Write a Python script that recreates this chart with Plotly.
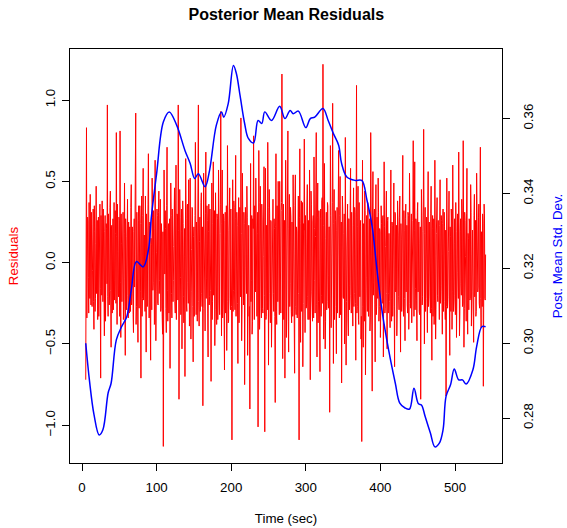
import plotly.graph_objects as go

# Residual series: whole-second samples (t = 5 .. 541 s)
res_start = 5
residuals_whole = [
    -0.72, 0.83, -0.12, 0.25, -0.31, 0.08, 0.42, -0.26, 0.15, -0.05, 0.33, -0.41, 0.19, -0.22, 0.47, 0.02, -0.35, 0.28, -0.14, 0.36,
    -0.71, 0.11, 0.38, -0.24, 0.06, -0.45, 0.29, -0.09, 0.21, 0.97, -0.33, 0.14, -0.18, 0.44, -0.52, 0.23, 0.03, -0.29, 0.37, -0.11,
    0.18, 0.80, -0.38, 0.07, -0.21, 0.26, 0.81, -0.46, 0.12, -0.04, 0.31, -0.27, 0.49, -0.57, 0.16, -0.13, 0.39, -0.34, 0.05, 0.22,
    -0.30, 0.48, -0.19, 0.09, -0.43, 0.27, 0.62, 0.92, -0.27, 0.13, -0.49, 0.35, -0.06, 0.24, -0.71, 0.41, -0.22, 0.58, -0.15, 0.03,
    0.41, -0.55, 0.17, -0.08, 0.67, -0.34, 0.25, -0.60, 0.11, 0.52, -0.17, 0.32, -0.38, 0.63, -0.48, 0.06, 0.29, -0.26, 0.44, -0.11,
    0.39, -0.28, 0.14, -0.44, -1.13, 0.57, -0.07, 0.21, -0.43, 0.71, -0.36, 0.24, 0.01, -0.65, 0.49, -0.19, 0.33, -0.24, 0.10, 0.46,
    -0.31, 0.60, -0.16, 0.28, 0.97, -0.84, 0.45, -0.09, 0.19, -0.53, 0.38, -0.21, 0.04, -0.70, 0.64, -0.26, 0.35, -0.12, 0.51, -0.39,
    0.52, -0.47, 0.08, 0.33, -0.61, 0.22, -0.14, 0.74, -0.32, 0.15, -0.05, 0.97, -0.39, 0.28, -0.18, 0.43, -0.27, -0.88, 0.55, 0.02,
    -0.42, 0.68, -0.10, 0.26, -0.58, 0.36, -0.21, 0.13, -0.73, 0.49, -0.24, 0.62, 0.07, -0.51, 0.43, -0.16, 0.30, -0.35, 0.57, -0.08,
    0.18, 0.93, -0.45, 0.57, -0.23, 0.09, -0.66, 0.31, -0.12, -0.54, 0.72, -0.37, 0.20, 0.46, -0.29, 0.05, -1.09, 0.51, -0.17, 0.34,
    -0.29, 0.66, -0.14, 0.23, -0.62, 0.40, -0.06, 0.12, 0.89, -0.48, 0.55, -0.20, 0.31, -0.75, 0.34, -0.03, 0.47, -0.57, 0.16, -0.33,
    -0.90, 0.61, -0.11, -0.44, 0.27, 0.78, -0.35, 0.09, 0.52, -0.22, 0.18, -1.01, 0.69, -0.41, 0.47, -0.15, 0.36, -0.28, 0.04, 0.59,
    -1.04, 0.58, -0.33, 0.13, 0.74, -0.63, 0.45, -0.19, 0.26, -0.52, 0.08, 0.39, -0.30, 0.21, -0.86, 0.67, -0.38, 0.14, 0.50, -0.25,
    0.50, -0.17, 0.32, 1.16, -0.59, 0.36, -0.09, -0.71, 0.63, -0.46, 0.22, 0.81, -0.55, 0.42, -0.13, 0.28, -0.37, 0.06, 0.54, -0.23,
    -0.68, 0.54, -0.32, 0.19, -0.07, 0.41, -1.09, 0.70, -0.49, 0.38, -0.15, -0.64, 0.24, 0.76, -0.43, 0.11, -0.26, 0.48, -0.35, 0.03,
    0.57, -0.72, 0.44, -0.18, -0.36, 0.29, 0.65, -0.11, 0.16, 0.80, -0.58, 0.49, -0.24, 0.07, -0.67, 0.33, -0.20, 0.40, 1.22, -0.47,
    0.61, -0.53, 0.15, -0.29, 0.37, -0.08, 0.22, -0.92, 0.72, -0.40, 0.06, 0.98, -0.62, 0.45, -0.17, 0.26, -0.56, 0.34, -0.12, 0.69,
    -0.34, 0.53, -0.05, -0.74, 0.41, -0.21, 0.18, -0.50, 0.77, -0.63, 0.09, 0.36, -0.45, 0.27, -0.14, 0.58, -0.31, 0.12, -0.39, 0.46,
    -0.19, 0.31, -0.60, 1.09, -0.27, 0.47, -0.38, 0.08, 0.22, -0.47, -1.10, 0.63, -0.52, 0.14, 0.44, -0.69, 0.25, -0.09, 0.37, -0.33,
    0.16, -0.42, 0.80, -0.25, -0.79, 0.56, -0.12, 0.33, -0.61, 0.48, -0.27, 0.05, 0.52, -0.36, 0.21, -0.46, 0.35, -0.15, 0.28, -0.58,
    0.62, -0.31, 0.10, 0.44, -0.53, 0.28, -0.19, 0.07, -0.40, 0.57, -0.36, 0.23, -0.04, 0.49, -0.64, 0.30, -0.12, -0.45, 0.38, 0.17,
    -0.29, 0.41, -0.55, 0.14, -0.08, 0.66, -0.33, 0.20, -0.48, 0.36, 0.02, -0.26, 0.31, -0.41, 0.55, -0.17, 0.09, -0.37, 0.24, 0.75,
    -0.33, 0.62, -0.16, 0.25, -0.48, 0.37, 0.06, -0.30, 0.12, -0.84, 0.45, -0.26, 0.19, 0.82, -0.50, 0.34, -0.09, 0.28, -0.43, 0.56,
    -0.21, 0.13, -0.31, 0.47, -0.60, 0.29, -0.05, -0.38, 0.63, -0.47, 0.18, 0.40, -0.24, 0.08, -0.35, 0.51, -0.14, 0.26, -0.44, 0.33,
    -0.11, 0.22, -0.35, -0.82, 0.52, -0.28, 0.07, 0.44, -0.57, 0.16, 0.33, -0.41, 0.60, -0.30, 0.12, -0.20, 0.37, -0.46, 0.25, -0.06,
    0.68, -0.45, 0.19, -0.13, 0.39, -0.27, 0.75, -0.52, 0.31, 0.04, -0.36, 0.58, -0.44, 0.15, 0.27, -0.23, 0.48, -0.39, 0.10, -0.18,
    -0.49, 0.42, -0.08, -0.33, 0.55, 0.21, -0.15, 0.36, -0.28, 0.71, -0.40, 0.12, 0.30, -0.76, 0.36, -0.22, 0.05,
]
# Residual series: half-second samples (t = 5.5 .. 540.5 s)
residuals_half = [
    0.21, -0.34, 0.28, -0.09, 0.37, -0.22, -0.15, 0.31, -0.27, 0.18, -0.24, 0.35, -0.30, 0.12, -0.19, 0.26, 0.09, -0.33, 0.23, -0.16,
    0.29, -0.20, 0.05, 0.33, -0.28, 0.19, -0.36, 0.24, -0.13, -0.21, 0.30, -0.26, 0.34, -0.17, 0.22, -0.31, 0.27, 0.14, -0.23, 0.32,
    -0.25, 0.16, 0.36, -0.19, 0.28, -0.33, -0.12, 0.30, -0.24, 0.21, -0.35, 0.18, -0.10, 0.27, -0.29, 0.33, -0.20, 0.25, -0.31, -0.14,
    0.34, -0.26, 0.22, -0.32, 0.19, -0.15, 0.11, -0.38, 0.31, -0.21, 0.26, -0.28, 0.35, -0.18, 0.24, -0.33, 0.29, -0.23, 0.17, -0.30,
    -0.22, 0.30, -0.27, 0.36, -0.20, 0.23, -0.34, 0.15, -0.29, 0.28, -0.12, 0.21, -0.37, 0.26, -0.18, 0.33, -0.25, 0.31, -0.19, 0.27,
    -0.30, 0.24, -0.33, 0.19, -0.26, 0.14, 0.32, -0.28, 0.35, -0.17, 0.22, -0.31, 0.27, -0.21, 0.29, -0.34, 0.18, -0.11, 0.36, -0.24,
    0.25, -0.35, 0.30, -0.23, 0.20, -0.16, 0.28, -0.32, 0.33, -0.19, 0.24, -0.37, 0.21, -0.14, 0.27, -0.30, 0.36, -0.25, 0.18, -0.29,
    0.23, -0.18, 0.34, -0.27, 0.16, -0.33, 0.29, -0.21, 0.25, -0.36, 0.31, -0.24, 0.13, -0.30, 0.37, -0.19, 0.22, -0.28, 0.26, -0.34,
    0.30, -0.22, 0.35, -0.31, 0.19, -0.26, 0.33, -0.17, 0.28, -0.35, 0.24, -0.20, 0.32, -0.29, 0.15, -0.38, 0.27, -0.23, 0.21, -0.32,
    0.36, -0.28, 0.24, -0.34, 0.30, -0.19, 0.26, -0.31, 0.35, -0.24, 0.17, -0.36, 0.29, -0.22, 0.33, -0.27, 0.20, -0.30, 0.38, -0.18,
    0.27, -0.33, 0.31, -0.25, 0.22, -0.37, 0.34, -0.21, 0.18, -0.29, 0.36, -0.26, 0.24, -0.32, 0.30, -0.19, 0.28, -0.35, 0.23, -0.27,
    0.33, -0.24, 0.29, -0.36, 0.21, -0.30, 0.35, -0.18, 0.26, -0.33, 0.31, -0.22, 0.37, -0.28, 0.19, -0.34, 0.25, -0.31, 0.32, -0.20,
    0.28, -0.35, 0.23, -0.29, 0.34, -0.21, 0.30, -0.37, 0.25, -0.26, 0.36, -0.19, 0.27, -0.33, 0.22, -0.30, 0.35, -0.24, 0.29, -0.32,
    0.24, -0.31, 0.37, -0.22, 0.30, -0.35, 0.26, -0.28, 0.33, -0.20, 0.29, -0.36, 0.21, -0.27, 0.34, -0.30, 0.25, -0.33, 0.31, -0.23,
    0.35, -0.27, 0.22, -0.34, 0.31, -0.19, 0.28, -0.36, 0.24, -0.30, 0.37, -0.25, 0.20, -0.32, 0.29, -0.28, 0.33, -0.21, 0.26, -0.35,
    0.30, -0.23, 0.36, -0.29, 0.25, -0.34, 0.21, -0.31, 0.34, -0.26, 0.28, -0.37, 0.32, -0.22, 0.27, -0.33, 0.38, -0.25, 0.23, -0.30,
    0.26, -0.36, 0.31, -0.24, 0.35, -0.28, 0.22, -0.33, 0.29, -0.21, 0.37, -0.30, 0.24, -0.35, 0.32, -0.27, 0.20, -0.31, 0.34, -0.25,
    0.29, -0.32, 0.25, -0.37, 0.33, -0.22, 0.30, -0.28, 0.36, -0.24, 0.21, -0.34, 0.27, -0.29, 0.35, -0.20, 0.31, -0.36, 0.23, -0.27,
    0.34, -0.25, 0.28, -0.31, 0.22, -0.35, 0.37, -0.21, 0.26, -0.33, 0.30, -0.27, 0.24, -0.36, 0.32, -0.23, 0.29, -0.30, 0.35, -0.19,
    0.27, -0.34, 0.23, -0.29, 0.33, -0.20, 0.30, -0.26, 0.25, -0.32, 0.28, -0.22, 0.31, -0.27, 0.19, -0.30, 0.24, -0.25, 0.29, -0.21,
    0.22, -0.28, 0.30, -0.19, 0.26, -0.31, 0.18, -0.24, 0.29, -0.22, 0.25, -0.33, 0.20, -0.27, 0.31, -0.18, 0.23, -0.29, 0.27, -0.21,
    0.28, -0.20, 0.24, -0.30, 0.19, -0.26, 0.32, -0.22, 0.27, -0.18, 0.23, -0.31, 0.29, -0.25, 0.21, -0.28, 0.30, -0.19, 0.26, -0.24,
    0.20, -0.29, 0.27, -0.23, 0.31, -0.18, 0.25, -0.32, 0.22, -0.26, 0.29, -0.21, 0.33, -0.24, 0.18, -0.30, 0.26, -0.22, 0.28, -0.27,
    0.25, -0.19, 0.30, -0.28, 0.21, -0.33, 0.27, -0.23, 0.19, -0.29, 0.32, -0.20, 0.26, -0.31, 0.23, -0.25, 0.29, -0.18, 0.24, -0.30,
    0.31, -0.24, 0.20, -0.27, 0.28, -0.21, 0.33, -0.26, 0.22, -0.30, 0.25, -0.18, 0.29, -0.23, 0.27, -0.32, 0.19, -0.25, 0.30, -0.22,
    0.24, -0.31, 0.27, -0.20, 0.32, -0.25, 0.21, -0.28, 0.26, -0.19, 0.30, -0.23, 0.18, -0.29, 0.25, -0.22, 0.31, -0.26, 0.20, -0.27,
    0.29, -0.21, 0.26, -0.30, 0.23, -0.18, 0.28, -0.25, 0.31, -0.22, 0.19, -0.27, 0.24, -0.20, 0.30, -0.23,
]

res_time, residuals = [], []
for i, v in enumerate(residuals_whole):
    res_time.append(res_start + i)
    residuals.append(v)
    if i < len(residuals_half):
        res_time.append(res_start + i + 0.5)
        residuals.append(residuals_half[i])

# Posterior mean std. dev. curve
sd_time = [5, 10, 16, 23, 28, 35, 39, 46, 53, 60, 66, 73, 82, 89, 93, 100,
           109, 117, 127, 138, 145, 151, 156, 165, 171, 180, 187, 190, 196,
           203, 207, 212, 218, 223, 230, 236, 241, 245, 254, 265, 272, 279,
           283, 290, 300, 306, 312, 323, 330, 337, 344, 348, 355, 366, 375,
           382, 389, 395, 402, 411, 420, 426, 433, 439, 445, 451, 455, 460,
           467, 473, 479, 484, 488, 494, 499, 505, 510, 515, 524, 529, 536, 541]
sd_vals = [0.300, 0.290, 0.281, 0.2755, 0.2769, 0.2867, 0.2893, 0.3009, 0.3044,
           0.3071, 0.3142, 0.3218, 0.3204, 0.3249, 0.3338, 0.3453, 0.3591,
           0.3618, 0.3582, 0.3515, 0.3480, 0.3440, 0.3453, 0.3418, 0.3462,
           0.3582, 0.3618, 0.3604, 0.3640, 0.3742, 0.3720, 0.3660, 0.3587,
           0.3547, 0.3535, 0.3595, 0.3587, 0.3618, 0.3595, 0.3633, 0.3600,
           0.3622, 0.3613, 0.3620, 0.3576, 0.3600, 0.3604, 0.3627, 0.3595,
           0.3560, 0.3529, 0.3480, 0.3444, 0.3435, 0.3435, 0.3382, 0.3311,
           0.3204, 0.3089, 0.2982, 0.2893, 0.2840, 0.2827, 0.2824, 0.2880,
           0.2838, 0.2835, 0.2804, 0.2760, 0.2723, 0.2733, 0.2769, 0.2858,
           0.2889, 0.2931, 0.2902, 0.2902, 0.2891, 0.2929, 0.2991, 0.3044, 0.3044]

x_ticks = [0, 100, 200, 300, 400, 500]
y_ticks = [-1.0, -0.5, 0.0, 0.5, 1.0]
y2_ticks = [0.28, 0.30, 0.32, 0.34, 0.36]

FONT = "Liberation Sans, Arial, Helvetica, sans-serif"
FS = 13.3

fig = go.Figure()
fig.add_trace(go.Scatter(x=res_time, y=residuals, mode="lines",
                         line=dict(color="#ff0000", width=1), yaxis="y",
                         showlegend=False))
fig.add_trace(go.Scatter(x=sd_time, y=sd_vals, mode="lines",
                         line=dict(color="#0000ff", width=1.5, shape="spline"),
                         yaxis="y2", showlegend=False))

axis_common = dict(showgrid=False, zeroline=False, ticks="outside", ticklen=7,
                   tickcolor="black", tickwidth=1, linecolor="black",
                   linewidth=1, automargin=False,
                   tickfont=dict(size=FS, color="black", family=FONT))

fig.update_layout(
    width=567, height=528,
    margin=dict(l=70, r=65, t=49, b=65),
    paper_bgcolor="white", plot_bgcolor="white",
    font=dict(family=FONT, size=FS, color="black"),
    title=dict(text="<b>Posterior Mean Residuals</b>", x=0.505, xanchor="center",
               y=1 - 14 / 528, yanchor="middle", font=dict(size=16, family=FONT)),
    xaxis=dict(range=[-16.1, 563], tickvals=x_ticks, showline=True, mirror=True,
               ticklabelstandoff=5,
               title=dict(text="Time (sec)", standoff=19, font=dict(size=FS)),
               **axis_common),
    yaxis=dict(range=[-1.232, 1.314], tickvals=y_ticks, tickformat=".1f",
               tickangle=-90, showline=True, mirror=True, ticklabelstandoff=2,
               title=dict(text="Residuals", standoff=21,
                          font=dict(size=FS, color="#ff0000")),
               **axis_common),
    yaxis2=dict(range=[0.268, 0.3786], tickvals=y2_ticks, tickformat=".2f",
                tickangle=-90, overlaying="y", side="right", showline=True,
                ticklabelstandoff=7,
                title=dict(text="Post. Mean Std. Dev.", standoff=17,
                           font=dict(size=FS, color="#0000ff")),
                **axis_common),
)

fig.write_html("out.html")
